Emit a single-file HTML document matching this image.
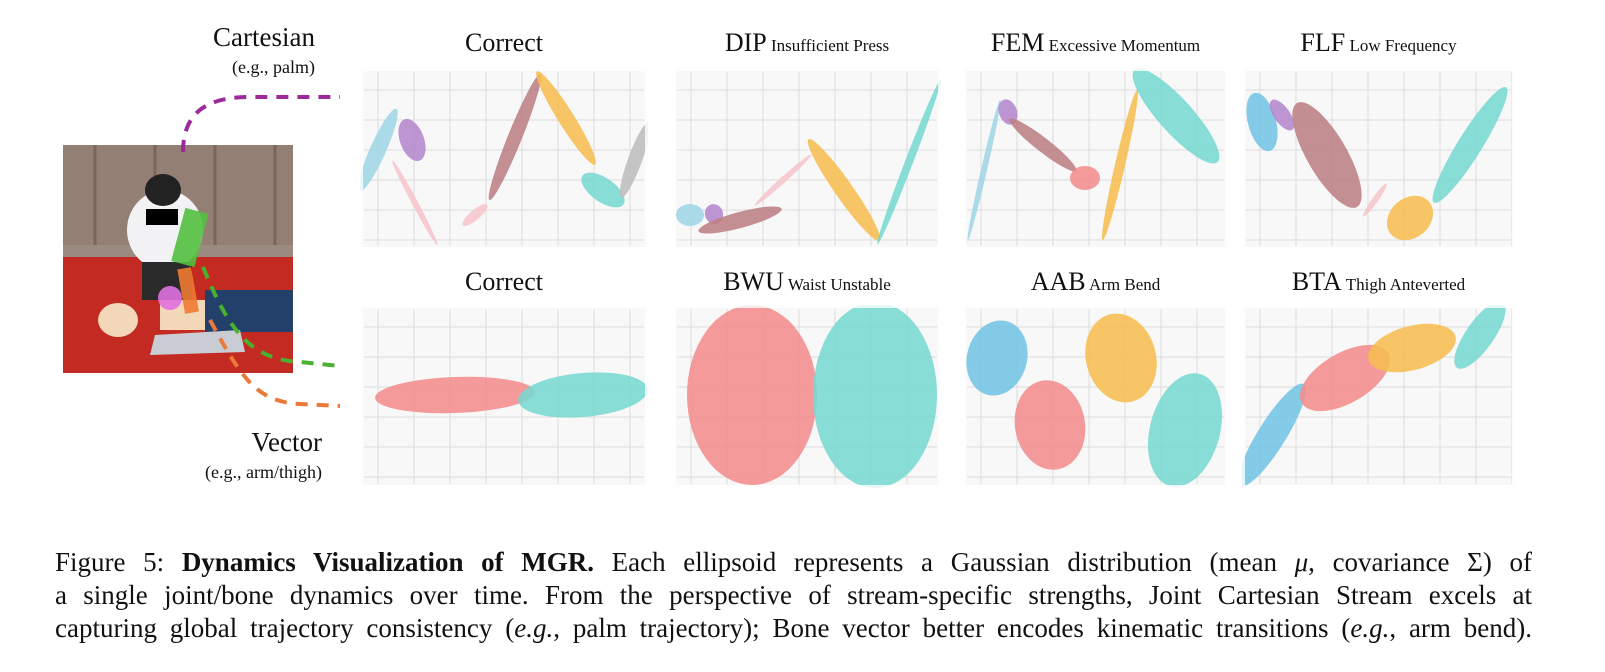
<!DOCTYPE html>
<html><head><meta charset="utf-8"><style>
html,body{margin:0;padding:0;background:#fff;}
body{width:1605px;height:672px;position:relative;overflow:hidden;font-family:"Liberation Serif",serif;}
#fig{position:absolute;left:0;top:0;}
.cap{position:absolute;left:55px;top:546px;width:1477px;font-size:27px;line-height:33px;color:#111;}
.cap div{text-align:justify;text-align-last:justify;white-space:nowrap;height:33px;}
</style></head><body>
<svg id="fig" width="1605" height="520">
  <g>
    <rect x="63" y="145" width="230" height="228" fill="#8d7a6e"/>
    <rect x="63" y="145" width="230" height="108" fill="#947f74"/>
    <line x1="95" y1="145" x2="95" y2="250" stroke="#7a665c" stroke-width="3"/>
    <line x1="155" y1="145" x2="155" y2="250" stroke="#7a665c" stroke-width="3"/>
    <line x1="215" y1="145" x2="215" y2="250" stroke="#7a665c" stroke-width="3"/>
    <line x1="275" y1="145" x2="275" y2="250" stroke="#7a665c" stroke-width="3"/>
    <rect x="63" y="245" width="230" height="12" fill="#9a8a80"/>
    <rect x="63" y="257" width="230" height="116" fill="#c22a22"/>
    <ellipse cx="165" cy="230" rx="38" ry="40" fill="#f2f2f4"/>
    <ellipse cx="163" cy="190" rx="18" ry="16" fill="#222"/>
    <rect x="146" y="209" width="32" height="16" fill="#000"/>
    <rect x="142" y="262" width="50" height="38" fill="#2a2a2a"/>
    <rect x="160" y="300" width="60" height="30" fill="#f3d7b9"/>
    <ellipse cx="118" cy="320" rx="20" ry="17" fill="#f3d7b9"/>
    <rect x="205" y="290" width="88" height="42" fill="#23406b"/>
    <path d="M155 335 L240 330 L245 352 L150 355 Z" fill="#c9ccd3"/>
    <rect x="178" y="210" width="24" height="55" fill="#52c040" opacity="0.9" transform="rotate(15 190 237)"/>
    <rect x="181" y="268" width="14" height="45" fill="#f07a30" opacity="0.9" transform="rotate(-10 188 290)"/>
    <circle cx="170" cy="298" r="12" fill="#e070e0" opacity="0.9"/>
  </g>
  <path d="M183 152 C183 110 210 97 250 97 L340 97" fill="none" stroke="#9c2a9c" stroke-width="4" stroke-dasharray="12,9"/>
  <path d="M203 267 C225 320 245 360 300 362 L340 366" fill="none" stroke="#4ab030" stroke-width="4" stroke-dasharray="12,9"/>
  <path d="M210 320 C240 375 255 402 300 404 L340 406" fill="none" stroke="#ea7a3a" stroke-width="4" stroke-dasharray="12,9"/>
  <text x="315" y="46" text-anchor="end" font-family="Liberation Serif, serif" font-size="27" fill="#111">Cartesian</text>
  <text x="315" y="73" text-anchor="end" font-family="Liberation Serif, serif" font-size="18" fill="#111">(e.g., palm)</text>
  <text x="322" y="451" text-anchor="end" font-family="Liberation Serif, serif" font-size="27" fill="#111">Vector</text>
  <text x="322" y="478" text-anchor="end" font-family="Liberation Serif, serif" font-size="18" fill="#111">(e.g., arm/thigh)</text>
  <g id="panels"></g>
</svg>
<div class="cap">
<div>Figure 5: <b>Dynamics Visualization of MGR.</b> Each ellipsoid represents a Gaussian distribution (mean <i>μ</i>, covariance Σ) of</div>
<div>a single joint/bone dynamics over time. From the perspective of stream-specific strengths, Joint Cartesian Stream excels at</div>
<div>capturing global trajectory consistency (<i>e.g.</i>, palm trajectory); Bone vector better encodes kinematic transitions (<i>e.g.</i>, arm bend).</div>
</div>
<script>
// Ellipse data per panel: [meanX, meanY, semiMajor, semiMinor, angleDeg, colorKey]
const correctTopEllipses = [[18,82,45,8,-66,'lblue'],[52,72,22,12,70,'purple'],[55,135,48,3,62,'lpink'],[115,147,16,5,-40,'lpink'],[155,69,68,7,-68,'rose'],[206,50,55,8,58,'yellow'],[243,122,25,12,35,'teal'],[275,92,40,7,-70,'gray']];
const dipEllipses = [[17,147,14,11,0,'lblue'],[41,146,10,9,70,'purple'],[67,152,43,8,-15,'rose'],[110,112,38,3,-42,'lpink'],[171,122,62,9,55,'yellow'],[236,94,88,4,-69,'teal']];
const femEllipses = [[21,102,72,3,-77,'lblue'],[45,44,13,9,70,'purple'],[80,77,42,7,38,'rose'],[122,110,15,12,0,'pink'],[157,97,77,5,-77,'yellow'],[213,48,62,17,48,'teal']];
const flfEllipses = [[20,54,30,14,75,'blue'],[40,47,18,8,55,'purple'],[85,87,60,20,60,'rose'],[133,132,20,3,-55,'lpink'],[168,150,25,20,-40,'yellow'],[228,77,68,12,-58,'teal']];
const correctBottomEllipses = [[95,90,80,18,-2,'pink'],[223,90,65,22,-5,'teal']];
const bwuEllipses = [[79,90,65,90,0,'pink'],[202,90,62,93,0,'teal']];
const aabEllipses = [[34,53,30,38,15,'blue'],[158,53,35,45,-15,'yellow'],[87,120,35,45,-10,'pink'],[222,125,35,58,15,'teal']];
const btaEllipses = [[30,130,60,14,-58,'blue'],[103,73,50,25,-30,'pink'],[170,43,45,22,-15,'yellow'],[238,30,40,14,-55,'teal']];
const panelTitles = ['Correct','DIP','FEM','FLF','Correct','BWU','AAB','BTA'];
const panelSubtitles = ['','Insufficient Press','Excessive Momentum','Low Frequency','','Waist Unstable','Arm Bend','Thigh Anteverted'];

const colors={lblue:'#9fd6e6',blue:'#72c4e2',purple:'#b486cc',lpink:'#f6c4cc',pink:'#f28c8c',rose:'#bb7f84',yellow:'#f6bd50',teal:'#78d8d0',gray:'#bdbdbd'};
const layout=[[360,68,288,182],[673,68,268,182],[963,68,265,182],[1242,68,273,182],[360,305,288,183],[673,305,268,183],[963,305,265,183],[1242,305,273,183]];
const datasets=[correctTopEllipses,dipEllipses,femEllipses,flfEllipses,correctBottomEllipses,bwuEllipses,aabEllipses,btaEllipses];
const NS='http://www.w3.org/2000/svg';
const root=document.getElementById('panels');
function mk(t,a){const e=document.createElementNS(NS,t);for(const k in a)e.setAttribute(k,a[k]);return e;}
datasets.forEach((data,i)=>{
  const [x0,y0,W,H]=layout[i];
  const xs=v=>x0+v, ys=v=>y0+v;
  const g=mk('g',{});
  
  
  const cp=mk('clipPath',{id:'cp'+i});cp.appendChild(mk('rect',{x:x0,y:y0,width:W,height:H}));g.appendChild(cp);
  const bg=mk('rect',{x:x0,y:y0,width:W,height:H,fill:'#f8f8f8'});
  
  
  g.appendChild(bg);
  const grid=mk('g',{stroke:'#dcdcdc','stroke-width':1});
  
  
  for(let gx=x0+18;gx<x0+W;gx+=36)grid.appendChild(mk('line',{x1:gx,y1:y0+4,x2:gx,y2:y0+H-4}));
  for(let gy=y0+22;gy<y0+H;gy+=30)grid.appendChild(mk('line',{x1:x0+4,y1:gy,x2:x0+W-4,y2:gy}));
  g.appendChild(grid);
  const eg=mk('g',{'clip-path':'url(#cp'+i+')'});
  data.forEach((d,j)=>{
    const [mx,my,a,b,ang,c]=d;
    const e=mk('ellipse',{cx:xs(mx),cy:ys(my),rx:a,ry:b,transform:'rotate('+ang+' '+xs(mx)+' '+ys(my)+')',fill:colors[c],'fill-opacity':0.88});
    
    
    eg.appendChild(e);
  });
  g.appendChild(eg);
  g.appendChild(mk('rect',{x:x0,y:y0,width:W,height:H,fill:'none',stroke:'#fff','stroke-width':6,opacity:0.8}));
  const tx=x0+W/2, ty=i<4?51:290;
  const t=mk('text',{x:tx,y:ty,'text-anchor':'middle','font-family':'Liberation Serif, serif',fill:'#111'});
  
  
  const s1=mk('tspan',{'font-size':26});s1.textContent=panelTitles[i];t.appendChild(s1);
  if(panelSubtitles[i]){const s2=mk('tspan',{'font-size':17});s2.textContent=' '+panelSubtitles[i];t.appendChild(s2);}
  g.appendChild(t);
  root.appendChild(g);
});
</script>
</body></html>
